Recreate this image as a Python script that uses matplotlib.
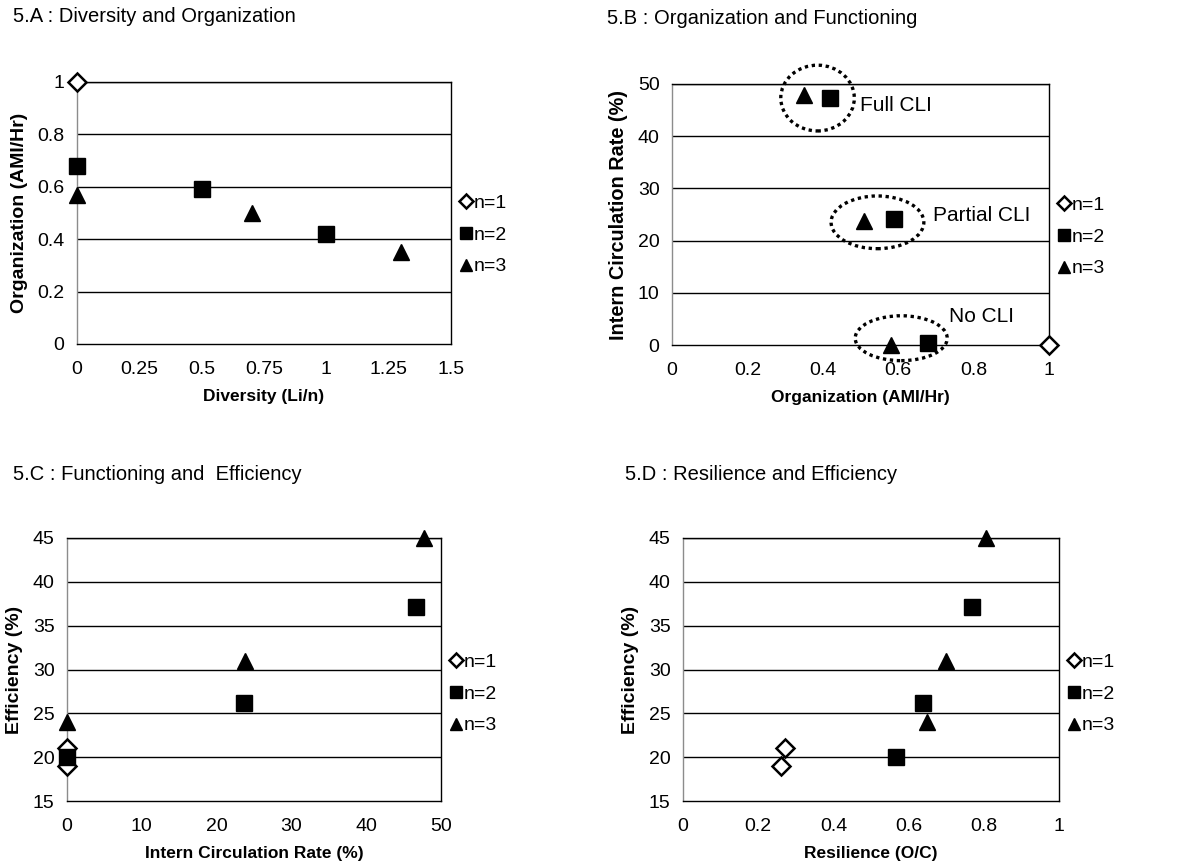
import matplotlib.pyplot as plt
from matplotlib.patches import Ellipse

plt.rcParams['font.family'] = ['Liberation Sans', 'DejaVu Sans']

# Data
# 5.A : Diversity vs Organization
a_n1_x = [0]
a_n1_y = [1.0]
a_n2_x = [0, 0.5, 1.0]
a_n2_y = [0.68, 0.59, 0.42]
a_n3_x = [0, 0.7, 1.3]
a_n3_y = [0.57, 0.50, 0.35]

# 5.B : Organization vs Intern circulation rate
b_n1_x = [1.0]
b_n1_y = [0]
b_n2_x = [0.42, 0.59, 0.68]
b_n2_y = [47.4, 24.1, 0.3]
b_n3_x = [0.35, 0.51, 0.58]
b_n3_y = [47.9, 23.8, 0]

# 5.C : Intern circulation rate vs Efficiency
c_n1_x = [0, 0]
c_n1_y = [21, 19]
c_n2_x = [0, 23.7, 46.6]
c_n2_y = [20, 26.2, 37.1]
c_n3_x = [0, 23.8, 47.7]
c_n3_y = [24, 31, 45]

# 5.D : Resilience vs Efficiency
d_n1_x = [0.27, 0.26]
d_n1_y = [21, 19]
d_n2_x = [0.566, 0.639, 0.769]
d_n2_y = [20, 26.2, 37.1]
d_n3_x = [0.65, 0.70, 0.807]
d_n3_y = [24, 31, 45]

W, H = 1186, 866
fig = plt.figure(figsize=(W / 100, H / 100), dpi=100)


def px_axes(left, top, right, bottom):
    return fig.add_axes([left / W, 1 - bottom / H, (right - left) / W, (bottom - top) / H])


def style(ax, xlim, ylim, xticks, yticks, xlabels, ylabels, xlabel, ylabel, ylabel_size=14):
    ax.set_xlim(*xlim)
    ax.set_ylim(*ylim)
    ax.set_xticks(xticks)
    ax.set_xticklabels(xlabels)
    ax.set_yticks(yticks)
    ax.set_yticklabels(ylabels)
    ax.tick_params(length=0, labelsize=14, pad=9)
    ax.tick_params(axis='x', pad=12)
    for y in yticks[1:]:
        ax.axhline(y, color='black', lw=1.0, zorder=1)
    for s in ['top', 'right', 'bottom']:
        ax.spines[s].set_color('black')
        ax.spines[s].set_linewidth(1.0)
    ax.spines['left'].set_color('#8c8c8c')
    ax.spines['left'].set_linewidth(1.0)
    ax.set_xlabel(xlabel, fontsize=12.5, fontweight='bold', labelpad=8)
    ax.set_ylabel(ylabel, fontsize=ylabel_size, fontweight='bold', labelpad=7)


def plot_series(ax, n1, n2, n3, leg_y):
    ax.plot(*n1, ls='none', marker='D', ms=9, mfc='white', mec='black', mew=1.8,
            label='n=1', clip_on=False, zorder=3)
    ax.plot(*n2, ls='none', marker='s', ms=11, color='black',
            label='n=2', clip_on=False, zorder=3)
    ax.plot(*n3, ls='none', marker='^', ms=11, color='black',
            label='n=3', clip_on=False, zorder=3)
    ax.legend(loc='center left', bbox_to_anchor=(1.03, leg_y), frameon=False,
              fontsize=14, handlelength=0.4, handletextpad=0.2, labelspacing=0.72,
              markerscale=0.75, borderaxespad=0, borderpad=0)


# 5.A
axA = px_axes(77, 82, 451, 344)
plot_series(axA, (a_n1_x, a_n1_y), (a_n2_x, a_n2_y), (a_n3_x, a_n3_y), 0.416)
style(axA, (0, 1.5), (0, 1), [0, 0.25, 0.5, 0.75, 1, 1.25, 1.5], [0, 0.2, 0.4, 0.6, 0.8, 1],
      ['0', '0.25', '0.5', '0.75', '1', '1.25', '1.5'], ['0', '0.2', '0.4', '0.6', '0.8', '1'],
      'Diversity (Li/n)', 'Organization (AMI/Hr)')
fig.text(13 / W, 1 - 17 / H, '5.A : Diversity and Organization', fontsize=14.5, va='center')

# 5.B
axB = px_axes(672, 84, 1049, 345)
plot_series(axB, (b_n1_x, b_n1_y), (b_n2_x, b_n2_y), (b_n3_x, b_n3_y), 0.414)
style(axB, (0, 1), (0, 50), [0, 0.2, 0.4, 0.6, 0.8, 1], [0, 10, 20, 30, 40, 50],
      ['0', '0.2', '0.4', '0.6', '0.8', '1'], ['0', '10', '20', '30', '40', '50'],
      'Organization (AMI/Hr)', 'Intern Circulation Rate (%)', ylabel_size=14.3)
fig.text(607 / W, 1 - 19 / H, '5.B : Organization and Functioning', fontsize=14.5, va='center')

groups = [((0.386, 47.3), 0.195, 12.6, 'Full CLI', (0.50, 45.8)),
          ((0.545, 23.5), 0.246, 10.1, 'Partial CLI', (0.692, 24.9)),
          ((0.608, 1.3), 0.244, 8.6, 'No CLI', (0.734, 5.5))]
for center, w, h, label, pos in groups:
    e = Ellipse(center, w, h, fill=False, ec='black', lw=2.4, ls=(0, (1, 1.1)),
                clip_on=False, zorder=4)
    axB.add_patch(e)
    axB.text(pos[0], pos[1], label, fontsize=15, va='center', ha='left')

# 5.C
axC = px_axes(67, 538, 441, 801)
plot_series(axC, (c_n1_x, c_n1_y), (c_n2_x, c_n2_y), (c_n3_x, c_n3_y), 0.407)
style(axC, (0, 50), (15, 45), [0, 10, 20, 30, 40, 50], [15, 20, 25, 30, 35, 40, 45],
      ['0', '10', '20', '30', '40', '50'], ['15', '20', '25', '30', '35', '40', '45'],
      'Intern Circulation Rate (%)', 'Efficiency (%)')
fig.text(13 / W, 1 - 475 / H, '5.C : Functioning and  Efficiency', fontsize=14.5, va='center')

# 5.D
axD = px_axes(683, 538, 1059, 801)
plot_series(axD, (d_n1_x, d_n1_y), (d_n2_x, d_n2_y), (d_n3_x, d_n3_y), 0.407)
style(axD, (0, 1), (15, 45), [0, 0.2, 0.4, 0.6, 0.8, 1], [15, 20, 25, 30, 35, 40, 45],
      ['0', '0.2', '0.4', '0.6', '0.8', '1'], ['15', '20', '25', '30', '35', '40', '45'],
      'Resilience (O/C)', 'Efficiency (%)')
fig.text(625 / W, 1 - 475 / H, '5.D : Resilience and Efficiency', fontsize=14.5, va='center')

fig.savefig('out.png', dpi=100)
